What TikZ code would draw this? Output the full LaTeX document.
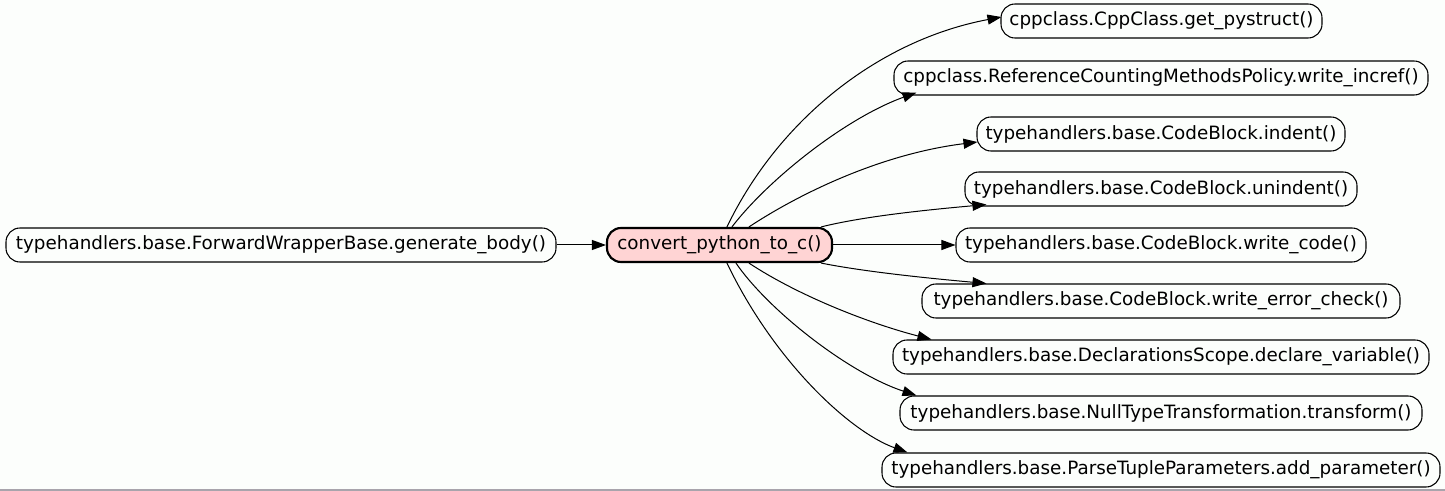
\documentclass[tikz,border=0pt]{standalone}
\usepackage{fontspec}
\setmainfont{DejaVu Sans}
\usetikzlibrary{arrows.meta,calc}
\definecolor{bgc}{RGB}{252,254,252}
\definecolor{hl}{RGB}{255,212,212}
\definecolor{frame}{RGB}{168,164,172}
\tikzset{
  fn/.style={draw=black, line width=0.8pt, rounded corners=10.5pt, minimum height=25.5pt,
    inner sep=0pt, font=\fontsize{13.75}{16}\selectfont, text=black},
  focus/.style={fn, fill=hl, line width=1.6pt},
  call/.style={line width=0.75pt, -{Triangle[length=10.5pt,width=7.5pt]}},
}
\begin{document}
\begin{tikzpicture}[x=0.75pt,y=-0.75pt]
\fill[bgc] (0,0) rectangle (1445,491);
\useasboundingbox (0,0) rectangle (1445,491);
\draw[frame, line width=0.9pt] (0,490) -- (1445,490);

\node[fn, minimum width=550*0.75pt] (l) at (281,245) {typehandlers.base.ForwardWrapperBase.generate\_body()};
\node[focus, minimum width=225*0.75pt] (c) at (719.5,245) {convert\_python\_to\_c()};

\node[fn, minimum width=321*0.75pt] (n1) at (1161.5,21) {cppclass.CppClass.get\_pystruct()};
\node[fn, minimum width=534*0.75pt] (n2) at (1161,78) {cppclass.ReferenceCountingMethodsPolicy.write\_incref()};
\node[fn, minimum width=368*0.75pt] (n3) at (1161,134) {typehandlers.base.CodeBlock.indent()};
\node[fn, minimum width=392*0.75pt] (n4) at (1161,189) {typehandlers.base.CodeBlock.unindent()};
\node[fn, minimum width=410*0.75pt] (n5) at (1161,245) {typehandlers.base.CodeBlock.write\_code()};
\node[fn, minimum width=478*0.75pt] (n6) at (1161,301) {typehandlers.base.CodeBlock.write\_error\_check()};
\node[fn, minimum width=536*0.75pt] (n7) at (1161,357) {typehandlers.base.DeclarationsScope.declare\_variable()};
\node[fn, minimum width=522*0.75pt] (n8) at (1161,413) {typehandlers.base.NullTypeTransformation.transform()};
\node[fn, minimum width=558*0.75pt] (n9) at (1161,470) {typehandlers.base.ParseTupleParameters.add\_parameter()};

\draw[call] (l.east) -- (c.west);
\draw[call] ($(c.north west)+(121,0)$) .. controls +(52,-108) and +(-122,23) .. ($(n1.west)+(1,-4)$);
\draw[call] ($(c.north west)+(126,0)$) .. controls +(35,-46) and +(-72,26) .. ($(n2.south west)+(23,-3)$);
\draw[call] ($(c.north west)+(143,0)$) .. controls +(50,-33) and +(-97,12) .. ($(n3.west)+(1,8)$);
\draw[call] ($(c.north east)+(-12,0)$) .. controls +(40,-10) and +(-67,6) .. ($(n4.south west)+(22,-2)$);
\draw[call] (c.east) -- (n5.west);
\draw[call] ($(c.south east)+(-12,0)$) .. controls +(40,8) and +(-67,-6) .. ($(n6.north west)+(65,0)$);
\draw[call] ($(c.south west)+(143,0)$) .. controls +(50,33) and +(-62,-16) .. ($(n7.north west)+(39,0)$);
\draw[call] ($(c.south west)+(130,0)$) .. controls +(33,48) and +(-67,-22) .. ($(n8.north west)+(17,0)$);
\draw[call] ($(c.south west)+(121,0)$) .. controls +(47,98) and +(-58,-21) .. ($(n9.north west)+(26,0)$);
\end{tikzpicture}
\end{document}
